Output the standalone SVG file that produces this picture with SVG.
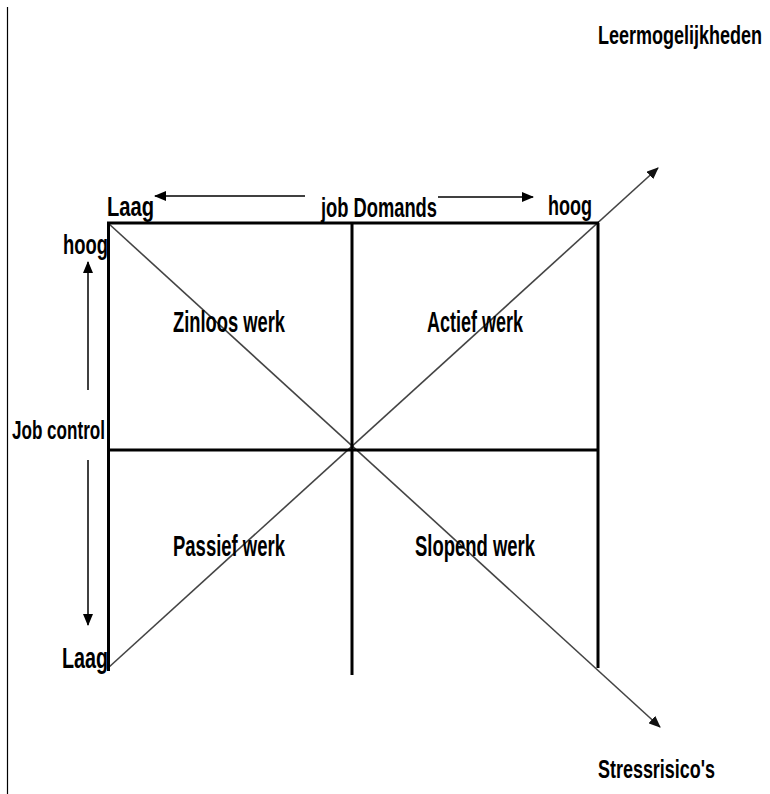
<svg xmlns="http://www.w3.org/2000/svg" width="770" height="794" viewBox="0 0 770 794">
<style>
.lbl{font-family:"Liberation Sans",Arial,sans-serif;font-weight:bold;font-size:29px;fill:#000}
.grid{stroke:#000;stroke-width:3;fill:none}
.axis{stroke:#000;stroke-width:1.5;fill:none}
.diag{stroke:#444;stroke-width:1.6;fill:none}
</style>
<defs>
<marker id="ah" viewBox="0 0 12 10" refX="11" refY="5" markerWidth="12" markerHeight="10" markerUnits="userSpaceOnUse" orient="auto">
<path d="M0,0 L12,5 L0,10 Z" fill="#000"/>
</marker>
<marker id="dh" viewBox="0 0 12 10" refX="11" refY="5" markerWidth="12" markerHeight="10" markerUnits="userSpaceOnUse" orient="auto">
<path d="M0,0 L12,5 L0,10 Z" fill="#111"/>
</marker>
</defs>
<rect width="770" height="794" fill="#fff"/>
<line x1="7.5" y1="7" x2="7.5" y2="794" stroke="#000" stroke-width="1.2"/>
<g id="connectors">
<line class="diag" x1="108" y1="223" x2="660" y2="727" marker-end="url(#dh)"/>
<line class="diag" x1="108" y1="668" x2="658" y2="168" marker-end="url(#dh)"/>
<line class="axis" x1="305" y1="196" x2="155" y2="196" marker-end="url(#ah)"/>
<line class="axis" x1="438" y1="197" x2="533" y2="197" marker-end="url(#ah)"/>
<line class="axis" x1="88" y1="390" x2="88" y2="262" marker-end="url(#ah)"/>
<line class="axis" x1="88" y1="460" x2="88" y2="625" marker-end="url(#ah)"/>
</g>
<g id="grid">
<line class="grid" x1="107" y1="223" x2="599" y2="223"/>
<line class="grid" x1="108.5" y1="223" x2="108.5" y2="671"/>
<line class="grid" x1="352" y1="223" x2="352" y2="675"/>
<line class="grid" x1="598" y1="223" x2="598" y2="668"/>
<line class="grid" x1="108" y1="450" x2="598" y2="450"/>
</g>
<g id="labels">
<text class="lbl" x="598" y="44" textLength="164" lengthAdjust="spacingAndGlyphs" style="font-size:26px">Leermogelijkheden</text>
<text class="lbl" x="107" y="216" textLength="47" lengthAdjust="spacingAndGlyphs" style="font-size:27px">Laag</text>
<text class="lbl" x="321" y="217" textLength="116" lengthAdjust="spacingAndGlyphs" style="font-size:27px">job Domands</text>
<text class="lbl" x="548" y="215" textLength="44" lengthAdjust="spacingAndGlyphs" style="font-size:27px">hoog</text>
<text class="lbl" x="63" y="254" textLength="45" lengthAdjust="spacingAndGlyphs" style="font-size:27px">hoog</text>
<text class="lbl" x="12" y="439" textLength="93" lengthAdjust="spacingAndGlyphs" style="font-size:26px">Job control</text>
<text class="lbl" x="62" y="668" textLength="46" lengthAdjust="spacingAndGlyphs" style="font-size:29px">Laag</text>
</g>
<g id="zinloos"><text class="lbl" x="173" y="332" textLength="112" lengthAdjust="spacingAndGlyphs">Zinloos werk</text></g>
<g id="actief"><text class="lbl" x="427" y="332" textLength="96" lengthAdjust="spacingAndGlyphs">Actief werk</text></g>
<g id="passief"><text class="lbl" x="173" y="556" textLength="112" lengthAdjust="spacingAndGlyphs">Passief werk</text></g>
<g id="slopend"><text class="lbl" x="415" y="556" textLength="120" lengthAdjust="spacingAndGlyphs">Slopend werk</text></g>
<g id="stress"><text class="lbl" x="598" y="778" textLength="117" lengthAdjust="spacingAndGlyphs" style="font-size:26px">Stressrisico's</text></g>
</svg>
